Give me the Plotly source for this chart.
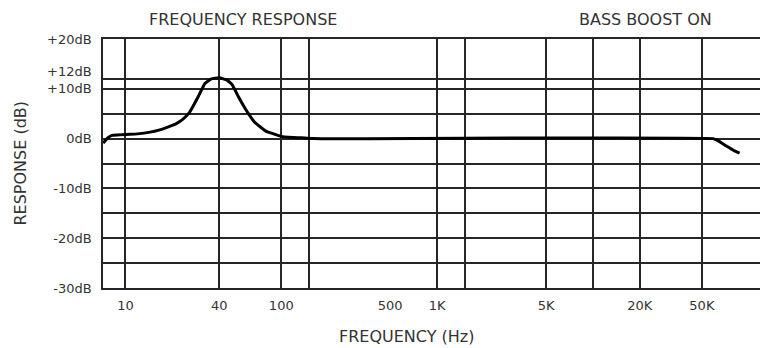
import plotly.graph_objects as go

# ---- data ----
FREQ_HZ = [7.2, 7.7, 8.2, 11.9, 14.4, 16.4, 18.5, 21.2, 23.3, 25.7, 29.4, 32.4, 35.6,
           40, 44.9, 48.6, 52.9, 59.3, 67.5, 79.6, 100, 111, 134, 160,
           59000, 64100, 71900, 80300, 87300]
RESPONSE_DB = [-0.9, 0.15, 0.65, 0.95, 1.3, 1.7, 2.25, 3.0, 3.85, 5.2, 8.5, 11.1, 12.0,
               12.2, 11.75, 10.75, 8.5, 5.8, 3.3, 1.5, 0.45, 0.25, 0.15, 0.0,
               0.0, -0.5, -1.5, -2.4, -2.9]

X_GRID_HZ = [10, 40, 100, 150, 1000, 1500, 5000, 10000, 20000, 50000]
X_LABEL_HZ = [10, 40, 100, 500, 1000, 5000, 20000, 50000]
X_LABEL_TEXT = ["10", "40", "100", "500", "1K", "5K", "20K", "50K"]

Y_TICKS = [-30, -25, -20, -15, -10, -5, 0, 5, 10, 12, 20]
Y_TICK_TEXT = ["-30dB", "", "-20dB", "", "-10dB", "", "0dB", "", "+10dB", "", "+20dB"]
Y_EXTRA_LABEL_DB = 12
Y_EXTRA_LABEL_TEXT = "+12dB"

TITLE_LEFT = "FREQUENCY RESPONSE"
TITLE_RIGHT = "BASS BOOST ON"
X_TITLE = "FREQUENCY (Hz)"
Y_TITLE = "RESPONSE (dB)"

X_RANGE_LOG = [0.856, 5.072]
Y_RANGE = [-30, 20]

FONT = "DejaVu Sans"
TXT = "#333333"
GRID = "#262626"
TICK_SIZE = 13

fig = go.Figure()
fig.add_trace(go.Scatter(
    x=FREQ_HZ, y=RESPONSE_DB, mode="lines",
    line=dict(color="black", width=3, shape="spline", smoothing=0.3),
    showlegend=False, hoverinfo="x+y",
))
# invisible trace carrying the label axis
fig.add_trace(go.Scatter(
    x=X_LABEL_HZ, y=[0] * len(X_LABEL_HZ), xaxis="x2", mode="markers",
    marker=dict(opacity=0), showlegend=False, hoverinfo="skip",
))

fig.update_layout(
    width=760, height=348,
    margin=dict(l=103, r=0, t=39, b=60, autoexpand=False),
    paper_bgcolor="white", plot_bgcolor="white",
    font=dict(family=FONT, color=TXT, size=TICK_SIZE),
    xaxis=dict(
        type="log", range=X_RANGE_LOG, automargin=False,
        tickmode="array", tickvals=X_GRID_HZ, showticklabels=False,
        showgrid=True, gridcolor=GRID, gridwidth=1.5,
        showline=True, linecolor=GRID, linewidth=1.5, mirror=True,
        zeroline=False, ticks="",
    ),
    xaxis2=dict(
        type="log", overlaying="x", matches="x", anchor="y", side="bottom",
        automargin=False,
        tickmode="array", tickvals=X_LABEL_HZ, ticktext=X_LABEL_TEXT,
        showgrid=False, showline=False, zeroline=False, ticks="",
        ticklabelstandoff=8,
        tickfont=dict(family=FONT, color=TXT, size=TICK_SIZE),
    ),
    yaxis=dict(
        range=Y_RANGE, automargin=False,
        tickmode="array", tickvals=Y_TICKS, ticktext=Y_TICK_TEXT,
        showgrid=True, gridcolor=GRID, gridwidth=1.5,
        showline=True, linecolor=GRID, linewidth=1.5,
        zeroline=False, ticks="", ticklabelstandoff=7,
        tickfont=dict(family=FONT, color=TXT, size=TICK_SIZE),
    ),
    annotations=[
        dict(text=Y_EXTRA_LABEL_TEXT, xref="paper", yref="y", x=0, y=Y_EXTRA_LABEL_DB,
             xanchor="right", yanchor="middle", xshift=-9, yshift=7, showarrow=False,
             font=dict(family=FONT, color=TXT, size=TICK_SIZE)),
        dict(text=TITLE_LEFT, xref="paper", yref="paper", x=0.213, y=1.08,
             xanchor="center", yanchor="middle", showarrow=False,
             font=dict(family=FONT, color=TXT, size=16)),
        dict(text=TITLE_RIGHT, xref="paper", yref="paper", x=0.826, y=1.08,
             xanchor="center", yanchor="middle", showarrow=False,
             font=dict(family=FONT, color=TXT, size=16)),
        dict(text=X_TITLE, xref="paper", yref="paper", x=0.4627, y=-0.193,
             xanchor="center", yanchor="middle", showarrow=False,
             font=dict(family=FONT, color=TXT, size=16)),
        dict(text=Y_TITLE, xref="paper", yref="paper", x=-0.1263, y=0.5,
             xanchor="center", yanchor="middle", showarrow=False, textangle=-90,
             font=dict(family=FONT, color=TXT, size=16)),
    ],
)

fig.write_html(
    "out.html",
    config={"displayModeBar": False},
    post_script="document.body.style.margin='0';document.body.style.overflow='hidden';",
)
